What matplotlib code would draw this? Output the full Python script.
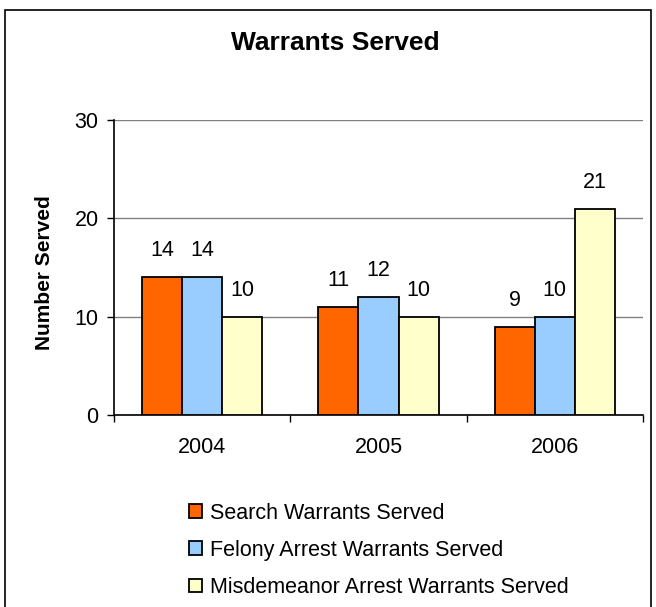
import matplotlib
matplotlib.use("Agg")
import matplotlib.pyplot as plt
import numpy as np
from matplotlib.patches import Rectangle

years = ["2004", "2005", "2006"]
series = ["Search Warrants Served", "Felony Arrest Warrants Served",
          "Misdemeanor Arrest Warrants Served"]
search = [14, 11, 9]
felony = [14, 12, 10]
misdemeanor = [10, 10, 21]
colors = ["#FF6600", "#99CCFF", "#FFFFCC"]

plt.rcParams["font.family"] = ["Liberation Sans", "DejaVu Sans"]
fs = 15.5

fig = plt.figure(figsize=(6.56, 6.07), dpi=100)
ax = fig.add_axes([114 / 656, 1 - 415 / 607, 529 / 656, 295 / 607])

x = np.arange(len(years))
w = 40 / 176
for i, (vals, name, c) in enumerate(zip([search, felony, misdemeanor], series, colors)):
    bars = ax.bar(x + (i - 1) * w, vals, w, color=c, edgecolor="black",
                  linewidth=1.3, label=name, zorder=3)
    for b, v in zip(bars, vals):
        ax.annotate(str(v), (b.get_x() + b.get_width() / 2, v),
                    xytext=(0, 19), textcoords="offset points",
                    ha="center", va="center", fontsize=fs)

ax.set_xlim(-0.5, 2.5)
ax.set_ylim(0, 30)
ax.set_yticks([0, 10, 20, 30])
ax.yaxis.grid(True, color="#808080", linewidth=1.0, zorder=0)
ax.set_xticks(x)
ax.set_xticklabels(years, fontsize=fs)
ax.set_xticks([-0.5, 0.5, 1.5, 2.5], minor=True)
ax.tick_params(axis="x", which="major", length=0, pad=16)
ax.tick_params(axis="x", which="minor", length=5, width=1, direction="out")
ax.tick_params(axis="y", labelsize=fs, length=5, width=1, pad=6)
for s in ["top", "right"]:
    ax.spines[s].set_visible(False)
for s in ["left", "bottom"]:
    ax.spines[s].set_linewidth(1.2)
ax.set_ylabel("Number Served", fontsize=15, fontweight="bold")
ax.yaxis.set_label_coords(-(114 - 54) / 529, (415 - 273) / 295)

fig.text(335 / 656, 1 - 43 / 607, "Warrants Served", ha="center", va="center",
         fontsize=19, fontweight="bold")

handles, labels = ax.get_legend_handles_labels()
leg = fig.legend(handles, labels, loc="upper left",
                 bbox_to_anchor=(178 / 656, 1 - 492 / 607), frameon=False,
                 fontsize=fs, handlelength=0.6, handleheight=0.6,
                 handletextpad=0.4, labelspacing=0.75, borderpad=0)

fig.patches.append(Rectangle((5 / 656, -0.05), 646 / 656, 1.05 - 10 / 607,
                             transform=fig.transFigure, fill=False,
                             edgecolor="black", linewidth=1.2))

fig.savefig("out.png", dpi=100)
